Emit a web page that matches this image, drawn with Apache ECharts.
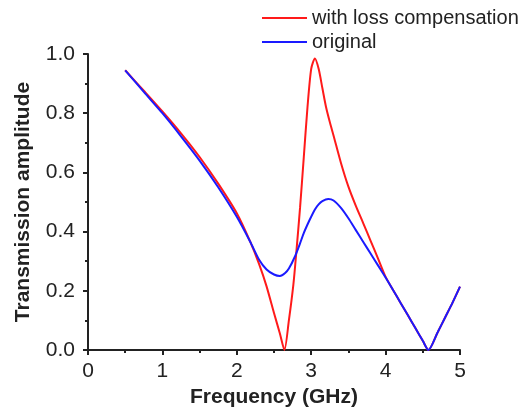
<!DOCTYPE html>
<html>
<head>
<meta charset="utf-8">
<script src="https://cdn.jsdelivr.net/npm/echarts@6/dist/echarts.min.js"></script>
<style>html,body{margin:0;padding:0;background:#fff;}#c{width:524px;height:408px;}</style>
</head>
<body>
<div id="c"></div>
<script>
var seriesNames = ['with loss compensation', 'original'];
var xTicks = [0, 1, 2, 3, 4, 5];
var yTicks = [0.0, 0.2, 0.4, 0.6, 0.8, 1.0];

var freqComp = [0.5, 0.75, 1.0, 1.25, 1.5, 1.75, 2.0, 2.18, 2.3, 2.4, 2.5, 2.58, 2.64, 2.7, 2.76, 2.8, 2.85, 2.9, 2.95, 3.0, 3.05, 3.1, 3.15, 3.2, 3.25, 3.3, 3.4, 3.5, 3.6, 3.7, 3.8, 3.9, 4.0, 4.1, 4.2, 4.3, 4.4, 4.5, 4.575, 4.7, 4.8, 4.9, 5.0];
var valComp  = [0.945, 0.876, 0.806, 0.732, 0.652, 0.562, 0.462, 0.366, 0.29, 0.215, 0.125, 0.055, 0.0, 0.10, 0.22, 0.33, 0.48, 0.65, 0.82, 0.95, 0.985, 0.95, 0.885, 0.82, 0.77, 0.725, 0.632, 0.552, 0.487, 0.428, 0.368, 0.308, 0.247, 0.203, 0.16, 0.117, 0.074, 0.031, 0.0, 0.06, 0.11, 0.16, 0.214];

var freqOrig = [0.5, 0.75, 1.0, 1.25, 1.5, 1.75, 2.0, 2.18, 2.3, 2.4, 2.5, 2.58, 2.65, 2.7, 2.78, 2.85, 2.9, 2.98, 3.05, 3.1, 3.15, 3.23, 3.3, 3.4, 3.5, 3.6, 3.7, 3.8, 3.9, 4.0, 4.1, 4.2, 4.3, 4.4, 4.5, 4.575, 4.7, 4.8, 4.9, 5.0];
var valOrig  = [0.945, 0.872, 0.80, 0.722, 0.64, 0.55, 0.45, 0.366, 0.305, 0.272, 0.255, 0.25, 0.26, 0.275, 0.315, 0.36, 0.395, 0.44, 0.475, 0.492, 0.503, 0.51, 0.505, 0.48, 0.445, 0.405, 0.365, 0.325, 0.285, 0.245, 0.203, 0.16, 0.117, 0.074, 0.031, 0.0, 0.06, 0.11, 0.16, 0.214];

function pairs(xs, ys) { return xs.map(function (x, i) { return [x, ys[i]]; }); }

var chart = echarts.init(document.getElementById('c'), null, {renderer: 'canvas'});
var font = 'Arial, "Liberation Sans", sans-serif';
chart.setOption({
  animation: false,
  backgroundColor: '#ffffff',
  grid: {left: 88, right: 64, top: 54, bottom: 58, containLabel: false, outerBoundsMode: 'none'},
  legend: {
    orient: 'vertical', left: 262, top: 6, itemGap: 0, padding: 0,
    icon: 'rect', itemWidth: 45, itemHeight: 2,
    textStyle: {fontFamily: font, fontSize: 20, color: '#222', lineHeight: 24},
    data: seriesNames
  },
  xAxis: {
    type: 'value', min: xTicks[0], max: xTicks[xTicks.length - 1], interval: 1,
    name: 'Frequency (GHz)', nameLocation: 'middle', nameGap: 36,
    nameTextStyle: {fontFamily: font, fontSize: 21, fontWeight: 'bold', color: '#222'},
    axisLine: {show: true, onZero: false, lineStyle: {color: '#222', width: 2}},
    axisTick: {show: true, inside: false, length: 5, lineStyle: {color: '#222', width: 2}},
    minorTick: {show: true, splitNumber: 2, length: 3, lineStyle: {color: '#222', width: 2}},
    axisLabel: {fontFamily: font, fontSize: 21, color: '#222', margin: 11},
    splitLine: {show: false}
  },
  yAxis: {
    type: 'value', min: yTicks[0], max: yTicks[yTicks.length - 1], interval: 0.2,
    name: 'Transmission amplitude', nameLocation: 'middle', nameGap: 54,
    nameTextStyle: {fontFamily: font, fontSize: 21, fontWeight: 'bold', color: '#222'},
    axisLine: {show: true, onZero: false, lineStyle: {color: '#222', width: 2}},
    axisTick: {show: true, inside: false, length: 5, lineStyle: {color: '#222', width: 2}},
    minorTick: {show: true, splitNumber: 2, length: 3, lineStyle: {color: '#222', width: 2}},
    axisLabel: {fontFamily: font, fontSize: 21, color: '#222', margin: 13,
      formatter: function (v) { return v.toFixed(1); }},
    splitLine: {show: false}
  },
  series: [
    {name: seriesNames[0], type: 'line', showSymbol: false, smooth: 0.25,
     lineStyle: {color: '#ff1a1a', width: 2}, itemStyle: {color: '#ff1a1a'},
     data: pairs(freqComp, valComp), z: 2},
    {name: seriesNames[1], type: 'line', showSymbol: false, smooth: 0.25,
     lineStyle: {color: '#1a1aff', width: 2}, itemStyle: {color: '#1a1aff'},
     data: pairs(freqOrig, valOrig), z: 3}
  ]
});
</script>
</body>
</html>
